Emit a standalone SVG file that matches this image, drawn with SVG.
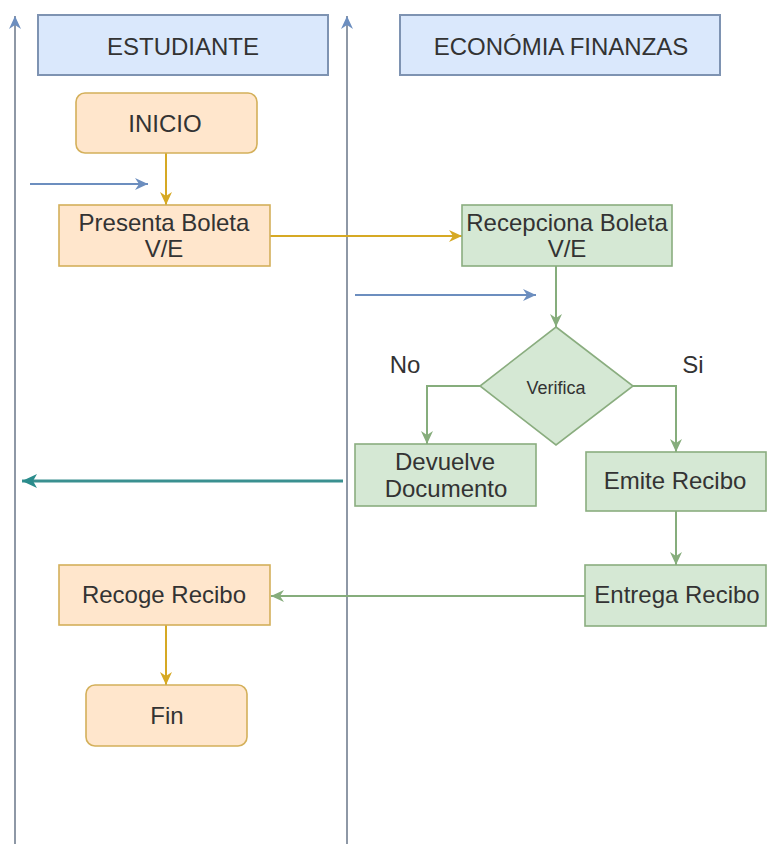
<svg xmlns="http://www.w3.org/2000/svg" width="773" height="844" viewBox="0 0 773 844">
<style>
text{font-family:"Liberation Sans",Arial,Helvetica,sans-serif;fill:#333;text-anchor:middle;font-size:24px}
.hdr{fill:#dae8fc;stroke:#7e93b2;stroke-width:2}
.org{fill:#ffe6cc;stroke:#d4b05a;stroke-width:1.6}
.grn{fill:#d5e8d4;stroke:#8aad7f;stroke-width:1.6}
.lane{stroke:#8e98a6;stroke-width:2;fill:none}
.eb{stroke:#6c8ebf;stroke-width:2;fill:none}
.eo{stroke:#d6a924;stroke-width:2;fill:none}
.eg{stroke:#86ad7c;stroke-width:2;fill:none}
.et{stroke:#3a9090;stroke-width:3;fill:none}
</style>
<defs>
<marker id="mb" markerUnits="userSpaceOnUse" markerWidth="14" markerHeight="12" refX="13" refY="6" orient="auto"><path d="M0,0 L13,6 L0,12 L4,6 z" fill="#6c8ebf"/></marker>
<marker id="mo" markerUnits="userSpaceOnUse" markerWidth="14" markerHeight="12" refX="13" refY="6" orient="auto"><path d="M0,0 L13,6 L0,12 L4,6 z" fill="#d6a924"/></marker>
<marker id="mg" markerUnits="userSpaceOnUse" markerWidth="14" markerHeight="12" refX="13" refY="6" orient="auto"><path d="M0,0 L13,6 L0,12 L4,6 z" fill="#86ad7c"/></marker>
<marker id="mt" markerUnits="userSpaceOnUse" markerWidth="16" markerHeight="14" refX="15" refY="7" orient="auto"><path d="M0,0 L15,7 L0,14 L4,7 z" fill="#2a8c8c"/></marker>
</defs>
<rect width="773" height="844" fill="#fff"/>
<g id="connectors">
<line class="lane" x1="15" y1="844" x2="15" y2="16" marker-end="url(#mb)"/>
<line class="lane" x1="347" y1="844" x2="347" y2="16" marker-end="url(#mb)"/>
<line class="eb" x1="30" y1="184" x2="148" y2="184" marker-end="url(#mb)"/>
<line class="eb" x1="355" y1="295" x2="536" y2="295" marker-end="url(#mb)"/>
<line class="eo" x1="166" y1="153" x2="166" y2="205" marker-end="url(#mo)"/>
<line class="eo" x1="270" y1="236" x2="462" y2="236" marker-end="url(#mo)"/>
<line class="eg" x1="556" y1="266" x2="556" y2="327" marker-end="url(#mg)"/>
<polyline class="eg" points="480,386 427,386 427,444" marker-end="url(#mg)"/>
<polyline class="eg" points="633,386 676,386 676,452" marker-end="url(#mg)"/>
<line class="eg" x1="676" y1="511" x2="676" y2="565" marker-end="url(#mg)"/>
<line class="eg" x1="585" y1="596" x2="271" y2="596" marker-end="url(#mg)"/>
<line class="eo" x1="166" y1="625" x2="166" y2="685" marker-end="url(#mo)"/>
<line class="et" x1="343" y1="481" x2="22" y2="481" marker-end="url(#mt)"/>
</g>
<g id="hdr-estudiante"><rect class="hdr" x="38" y="15" width="290" height="60"/><text x="183" y="55">ESTUDIANTE</text></g>
<g id="hdr-economia"><rect class="hdr" x="400" y="15" width="320" height="60"/><text x="561" y="55">ECONÓMIA FINANZAS</text></g>
<g id="inicio"><rect class="org" x="76" y="93" width="181" height="60" rx="9"/><text x="165" y="132">INICIO</text></g>
<g id="presenta"><rect class="org" x="59" y="205" width="211" height="61"/><text x="164" y="231">Presenta Boleta</text><text x="164" y="257">V/E</text></g>
<g id="recepciona"><rect class="grn" x="462" y="205" width="210" height="61"/><text x="567" y="231">Recepciona Boleta</text><text x="567" y="257">V/E</text></g>
<g id="verifica"><polygon class="grn" points="556,327 633,386 556,445 480,386"/><text x="556" y="394" style="font-size:18px">Verifica</text></g>
<g id="lbl-no"><text x="405" y="373">No</text></g>
<g id="lbl-si"><text x="693" y="373">Si</text></g>
<g id="devuelve"><rect class="grn" x="355" y="444" width="181" height="62"/><text x="445" y="470">Devuelve</text><text x="446" y="497">Documento</text></g>
<g id="emite"><rect class="grn" x="586" y="452" width="180" height="59"/><text x="675" y="489">Emite Recibo</text></g>
<g id="entrega"><rect class="grn" x="585" y="565" width="181" height="61"/><text x="677" y="603">Entrega Recibo</text></g>
<g id="recoge"><rect class="org" x="59" y="565" width="211" height="60"/><text x="164" y="603">Recoge Recibo</text></g>
<g id="fin"><rect class="org" x="86" y="685" width="161" height="61" rx="9"/><text x="167" y="724">Fin</text></g>
</svg>
